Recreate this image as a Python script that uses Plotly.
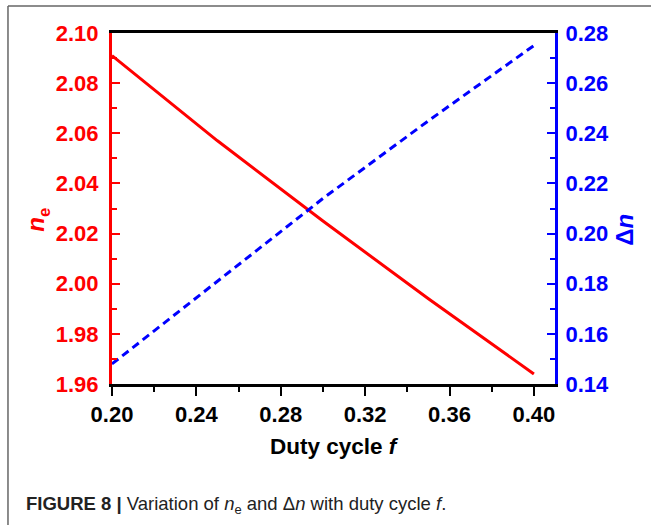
import plotly.graph_objects as go

# Duty cycle and the two refractive-index quantities
duty_cycle = [0.20, 0.25, 0.30, 0.35, 0.40]
n_e = [2.091, 2.057, 2.025, 1.994, 1.964]
delta_n = [0.148, 0.181, 0.214, 0.245, 0.275]

x_ticks = [0.20, 0.24, 0.28, 0.32, 0.36, 0.40]
left_ticks = [1.96, 1.98, 2.00, 2.02, 2.04, 2.06, 2.08, 2.10]
right_ticks = [0.14, 0.16, 0.18, 0.20, 0.22, 0.24, 0.26, 0.28]

RED = "#ff0000"
BLUE = "#0000ff"
FONT = "Liberation Sans, Arial, sans-serif"

fig = go.Figure()
fig.add_trace(go.Scatter(
    x=duty_cycle, y=n_e, mode="lines",
    line=dict(color=RED, width=3), yaxis="y", showlegend=False,
))
fig.add_trace(go.Scatter(
    x=duty_cycle, y=delta_n, mode="lines",
    line=dict(color=BLUE, width=3, dash="8px,5px"), yaxis="y2", showlegend=False,
))

tick_font = dict(family=FONT, size=22, weight="bold")

fig.update_layout(
    width=651, height=525,
    margin=dict(l=112, r=96, t=33, b=141),
    paper_bgcolor="white", plot_bgcolor="white",
    xaxis=dict(
        range=[0.20, 0.41], tickvals=x_ticks,
        ticktext=[f"{v:.2f}" for v in x_ticks],
        showgrid=False, zeroline=False,
        showline=True, linecolor="black", linewidth=3, mirror=True,
        ticks="outside", ticklen=9, tickwidth=2, tickcolor="black",
        minor=dict(dtick=0.02, tick0=0.20, ticks="outside", ticklen=5,
                   tickwidth=2, tickcolor="black", showgrid=False),
        tickfont=dict(color="black", **tick_font),
    ),
    yaxis=dict(
        range=[1.96, 2.10], tickvals=left_ticks,
        ticktext=[f"{v:.2f}" for v in left_ticks],
        showgrid=False, zeroline=False,
        showline=True, linecolor=RED, linewidth=3,
        ticks="inside", ticklen=8, tickwidth=2, tickcolor=RED,
        minor=dict(dtick=0.01, tick0=1.96, ticks="inside", ticklen=5,
                   tickwidth=2, tickcolor=RED, showgrid=False),
        tickfont=dict(color=RED, **tick_font),
        ticklabelstandoff=6,
    ),
    yaxis2=dict(
        range=[0.14, 0.28], tickvals=right_ticks,
        ticktext=[f"{v:.2f}" for v in right_ticks],
        overlaying="y", side="right",
        showgrid=False, zeroline=False,
        showline=True, linecolor=BLUE, linewidth=3,
        ticks="inside", ticklen=8, tickwidth=2, tickcolor=BLUE,
        minor=dict(dtick=0.01, tick0=0.14, ticks="inside", ticklen=5,
                   tickwidth=2, tickcolor=BLUE, showgrid=False),
        tickfont=dict(color=BLUE, **tick_font),
        ticklabelstandoff=3,
    ),
)

# Axis titles
fig.add_annotation(
    text="<b><i>n</i><sub>e</sub></b>", xref="paper", yref="paper",
    x=-0.168, y=0.467, xanchor="center", yanchor="middle",
    textangle=-90, showarrow=False,
    font=dict(family=FONT, size=24, color=RED),
)
fig.add_annotation(
    text="<b>Δ<i>n</i></b>", xref="paper", yref="paper",
    x=1.156, y=0.44, xanchor="center", yanchor="middle",
    textangle=-90, showarrow=False,
    font=dict(family=FONT, size=24, color=BLUE),
)
fig.add_annotation(
    text="<b>Duty cycle <i>f</i></b>", xref="paper", yref="paper",
    x=0.502, y=-0.177, xanchor="center", yanchor="middle", showarrow=False,
    font=dict(family=FONT, size=22.5, color="black"),
)

# Figure caption
fig.add_annotation(
    text="<b>FIGURE 8 |</b> Variation of <i>n</i><sub>e</sub> and Δ<i>n</i> with duty cycle <i>f</i>.",
    xref="paper", yref="paper", x=-0.199, y=-0.345,
    xanchor="left", yanchor="middle", showarrow=False,
    font=dict(family=FONT, size=18.5, color="#222222"),
)

# Frame around the figure (top and left edges)
fig.add_shape(type="line", xref="paper", yref="paper",
              x0=-0.2348, x1=-0.2348, y0=1.0769, y1=-0.41,
              line=dict(color="#666666", width=1.5))
fig.add_shape(type="line", xref="paper", yref="paper",
              x0=-0.2348, x1=1.25, y0=1.0769, y1=1.0769,
              line=dict(color="#666666", width=1.5))

fig.write_html("out.html")
